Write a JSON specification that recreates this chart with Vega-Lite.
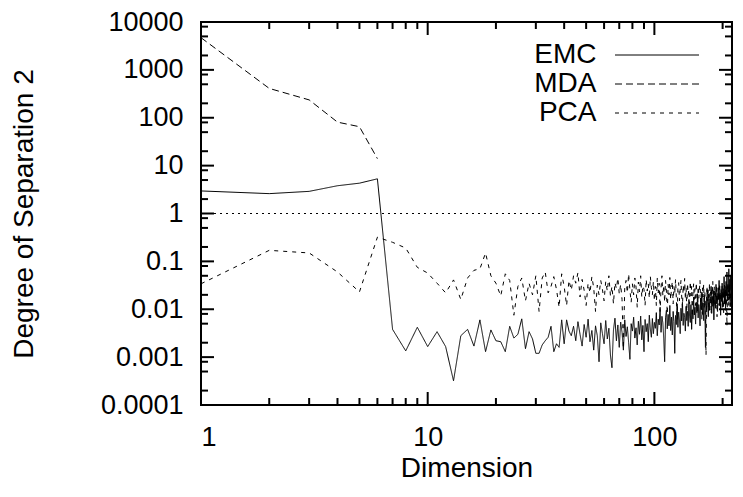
{
"$schema": "https://vega.github.io/schema/vega-lite/v6.json",
"width": 531, "height": 383,
"autosize": {"type": "none"},
"padding": {"left": 201, "top": 22, "right": 11, "bottom": 92},
"background": "#ffffff",
"config": {
  "font": "Liberation Sans",
  "view": {"stroke": "#000", "strokeWidth": 2},
  "axis": {"domain": false, "ticks": false, "grid": false, "labelFont": "Liberation Sans", "labelFontSize": 27, "labelColor": "#000", "titleFont": "Liberation Sans", "titleFontSize": 28, "titleFontWeight": "normal", "titleColor": "#000"},
  "legend": {"orient": "none", "legendX": 442, "legendY": 19, "padding": 0, "labelFont": "Liberation Sans", "labelFontSize": 28, "labelColor": "#000", "symbolType": "M-4.2,0H4.2", "symbolSize": 400, "symbolStrokeWidth": 1, "symbolStrokeColor": "#000", "symbolFillColor": "transparent", "labelAlign": "right", "labelOffset": -74.5, "rowPadding": 1}
},
"datasets": {
"ymaj": [{"v":0.0001},{"v":0.001},{"v":0.01},{"v":0.1},{"v":1},{"v":10},{"v":100},{"v":1000},{"v":10000}],
"yminor": [{"v":0.0002},{"v":0.0005},{"v":0.0008},{"v":0.002},{"v":0.005},{"v":0.008},{"v":0.02},{"v":0.05},{"v":0.08},{"v":0.2},{"v":0.5},{"v":0.8},{"v":2},{"v":5},{"v":8},{"v":20},{"v":50},{"v":80},{"v":200},{"v":500},{"v":800},{"v":2000},{"v":5000},{"v":8000}],
"xmaj": [{"d":1},{"d":10},{"d":100}],
"xminor": [{"d":2},{"d":3},{"d":4},{"d":5},{"d":6},{"d":7},{"d":8},{"d":9},{"d":20},{"d":30},{"d":40},{"d":50},{"d":60},{"d":70},{"d":80},{"d":90},{"d":200}],
"t": [
{"d":1,"EMC":2.96,"MDA":4700,"PCA":0.034},{"d":2,"EMC":2.6,"MDA":410,"PCA":0.17},{"d":3,"EMC":2.9,"MDA":236,"PCA":0.15},{"d":4,"EMC":3.8,"MDA":81,"PCA":0.06},{"d":5,"EMC":4.3,"MDA":65,"PCA":0.023},{"d":6,"EMC":5.3,"MDA":14,"PCA":0.32},
{"d":7,"EMC":0.0038,"PCA":0.25},{"d":8,"EMC":0.00135,"PCA":0.19},{"d":9,"EMC":0.0042,"PCA":0.075},{"d":10,"EMC":0.00166,"PCA":0.057},
{"d":11,"EMC":0.0034,"PCA":0.035},{"d":12,"EMC":0.00166,"PCA":0.022},{"d":13,"EMC":0.00032,"PCA":0.041},{"d":14,"EMC":0.0028,"PCA":0.016},{"d":15,"EMC":0.0038,"PCA":0.045},
{"d":16,"EMC":0.0017,"PCA":0.065},{"d":17,"EMC":0.006,"PCA":0.07},{"d":18,"EMC":0.0013,"PCA":0.15},{"d":19,"EMC":0.0037,"PCA":0.05},{"d":20,"EMC":0.0022,"PCA":0.035},
{"d":21,"EMC":0.0021,"PCA":0.019},{"d":22,"EMC":0.0013,"PCA":0.055},{"d":23,"EMC":0.0044,"PCA":0.04},{"d":24,"EMC":0.0025,"PCA":0.0075},{"d":25,"EMC":0.003,"PCA":0.03},
{"d":26,"EMC":0.0063,"PCA":0.045},{"d":27,"EMC":0.0015,"PCA":0.015},{"d":28,"EMC":0.0034,"PCA":0.035},{"d":29,"EMC":0.0024,"PCA":0.02},{"d":30,"EMC":0.0012,"PCA":0.05},
{"d":31,"EMC":0.0012,"PCA":0.009},{"d":32,"EMC":0.0018,"PCA":0.045},{"d":33,"EMC":0.0022,"PCA":0.06},{"d":34,"EMC":0.0026,"PCA":0.022},{"d":35,"EMC":0.0044,"PCA":0.03},
{"d":36,"EMC":0.0013,"PCA":0.048},{"d":37,"EMC":0.0019,"PCA":0.026},{"d":38,"EMC":0.0016,"PCA":0.011},{"d":39,"EMC":0.006,"PCA":0.055},{"d":40,"EMC":0.0019,"PCA":0.03},
{"d":41,"EMC":0.006,"PCA":0.012},{"d":42,"EMC":0.0035,"PCA":0.04},{"d":43,"EMC":0.0028,"PCA":0.025},{"d":44,"EMC":0.0044,"PCA":0.05},{"d":45,"EMC":0.0022,"PCA":0.035},
{"d":46,"EMC":0.0055,"PCA":0.058},{"d":47,"EMC":0.003,"PCA":0.018},{"d":48,"EMC":0.0017,"PCA":0.042},{"d":49,"EMC":0.0048,"PCA":0.025},{"d":50,"EMC":0.0026,"PCA":0.012},
{"d":51,"EMC":0.0062,"PCA":0.035},{"d":52,"EMC":0.0021,"PCA":0.022},{"d":53,"EMC":0.0036,"PCA":0.048},{"d":54,"EMC":0.0014,"PCA":0.028},{"d":55,"EMC":0.0045,"PCA":0.009},
{"d":56,"EMC":0.0028,"PCA":0.032},{"d":57,"EMC":0.0008,"PCA":0.02},{"d":58,"EMC":0.0052,"PCA":0.04},{"d":59,"EMC":0.0031,"PCA":0.026},{"d":60,"EMC":0.0019,"PCA":0.015},
{"d":61,"EMC":0.0058,"PCA":0.038},{"d":62,"EMC":0.0024,"PCA":0.024},{"d":63,"EMC":0.004,"PCA":0.05},{"d":64,"EMC":0.0011,"PCA":0.019},{"d":65,"EMC":0.0006,"PCA":0.03},
{"d":66,"EMC":0.0037,"PCA":0.013},{"d":67,"EMC":0.0065,"PCA":0.036},{"d":68,"EMC":0.0022,"PCA":0.027},{"d":69,"EMC":0.0047,"PCA":0.045},{"d":70,"EMC":0.0016,"PCA":0.021},
{"d":71,"EMC":0.0054,"PCA":0.033},{"d":72,"EMC":0.0033,"PCA":0.016},{"d":73,"EMC":0.0014,"PCA":0.0015},{"d":74,"EMC":0.006,"PCA":0.028},{"d":75,"EMC":0.0027,"PCA":0.04},
{"d":76,"EMC":0.0043,"PCA":0.022},{"d":77,"EMC":0.002,"PCA":0.055},{"d":78,"EMC":0.0009,"PCA":0.025},{"d":79,"EMC":0.005,"PCA":0.014},{"d":80,"EMC":0.0035,"PCA":0.034},
{"d":81,"EMC":0.0068,"PCA":0.02},{"d":82,"EMC":0.0025,"PCA":0.045},{"d":83,"EMC":0.0041,"PCA":0.029},{"d":84,"EMC":0.0018,"PCA":0.011},{"d":85,"EMC":0.0056,"PCA":0.037},
{"d":86,"EMC":0.003,"PCA":0.023},{"d":87,"EMC":0.0072,"PCA":0.05},{"d":88,"EMC":0.0023,"PCA":0.018},{"d":89,"EMC":0.0046,"PCA":0.031},{"d":90,"EMC":0.0013,"PCA":0.026},
{"d":91,"EMC":0.0061,"PCA":0.012},{"d":92,"EMC":0.0034,"PCA":0.042},{"d":93,"EMC":0.005,"PCA":0.024},{"d":94,"EMC":0.0021,"PCA":0.034},{"d":95,"EMC":0.0075,"PCA":0.017},
{"d":96,"EMC":0.0038,"PCA":0.048},{"d":97,"EMC":0.0026,"PCA":0.028},{"d":98,"EMC":0.0064,"PCA":0.02},{"d":99,"EMC":0.0031,"PCA":0.038},{"d":100,"EMC":0.0053,"PCA":0.015},
{"d":101,"EMC":0.004,"PCA":0.03},{"d":102,"EMC":0.0085,"PCA":0.012},{"d":103,"EMC":0.0028,"PCA":0.045},{"d":104,"EMC":0.0062,"PCA":0.022},{"d":105,"EMC":0.0047,"PCA":0.035},
{"d":106,"EMC":0.011,"PCA":0.009},{"d":107,"EMC":0.0033,"PCA":0.028},{"d":108,"EMC":0.0071,"PCA":0.05},{"d":109,"EMC":0.0052,"PCA":0.019},{"d":110,"EMC":0.0024,"PCA":0.032},
{"d":111,"EMC":0.0008,"PCA":0.014},{"d":112,"EMC":0.0066,"PCA":0.04},{"d":113,"EMC":0.0095,"PCA":0.024},{"d":114,"EMC":0.0039,"PCA":0.008},{"d":115,"EMC":0.0078,"PCA":0.033},
{"d":116,"EMC":0.0045,"PCA":0.02},{"d":117,"EMC":0.012,"PCA":0.046},{"d":118,"EMC":0.0036,"PCA":0.016},{"d":119,"EMC":0.0068,"PCA":0.027},{"d":120,"EMC":0.0029,"PCA":0.038},
{"d":121,"EMC":0.009,"PCA":0.013},{"d":122,"EMC":0.0055,"PCA":0.03},{"d":123,"EMC":0.0012,"PCA":0.021},{"d":124,"EMC":0.0074,"PCA":0.042},{"d":125,"EMC":0.0048,"PCA":0.017},
{"d":126,"EMC":0.013,"PCA":0.006},{"d":127,"EMC":0.0042,"PCA":0.029},{"d":128,"EMC":0.0087,"PCA":0.036},{"d":129,"EMC":0.006,"PCA":0.015},{"d":130,"EMC":0.0031,"PCA":0.025},
{"d":131,"EMC":0.0105,"PCA":0.04},{"d":132,"EMC":0.0057,"PCA":0.018},{"d":133,"EMC":0.014,"PCA":0.011},{"d":134,"EMC":0.0046,"PCA":0.032},{"d":135,"EMC":0.0082,"PCA":0.022},
{"d":136,"EMC":0.0067,"PCA":0.044},{"d":137,"EMC":0.0035,"PCA":0.016},{"d":138,"EMC":0.0115,"PCA":0.028},{"d":139,"EMC":0.0058,"PCA":0.009},{"d":140,"EMC":0.009,"PCA":0.035},
{"d":141,"EMC":0.0044,"PCA":0.02},{"d":142,"EMC":0.016,"PCA":0.026},{"d":143,"EMC":0.0072,"PCA":0.013},{"d":144,"EMC":0.0053,"PCA":0.038},{"d":145,"EMC":0.0125,"PCA":0.019},
{"d":146,"EMC":0.0038,"PCA":0.03},{"d":147,"EMC":0.0098,"PCA":0.007},{"d":148,"EMC":0.0063,"PCA":0.024},{"d":149,"EMC":0.018,"PCA":0.034},{"d":150,"EMC":0.0076,"PCA":0.016},
{"d":151,"EMC":0.011,"PCA":0.027},{"d":152,"EMC":0.0049,"PCA":0.012},{"d":153,"EMC":0.014,"PCA":0.036},{"d":154,"EMC":0.0085,"PCA":0.02},{"d":155,"EMC":0.021,"PCA":0.009},
{"d":156,"EMC":0.0066,"PCA":0.03},{"d":157,"EMC":0.0125,"PCA":0.017},{"d":158,"EMC":0.0092,"PCA":0.025},{"d":159,"EMC":0.0045,"PCA":0.04},{"d":160,"EMC":0.017,"PCA":0.014},
{"d":161,"EMC":0.01,"PCA":0.022},{"d":162,"EMC":0.023,"PCA":0.006},{"d":163,"EMC":0.0078,"PCA":0.028},{"d":164,"EMC":0.0135,"PCA":0.018},{"d":165,"EMC":0.0058,"PCA":0.033},
{"d":166,"EMC":0.019,"PCA":0.011},{"d":167,"EMC":0.011,"PCA":0.024},{"d":168,"EMC":0.0016,"PCA":0.0045},{"d":169,"EMC":0.015,"PCA":0.0011},{"d":170,"EMC":0.0088,"PCA":0.02},
{"d":171,"EMC":0.026,"PCA":0.03},{"d":172,"EMC":0.012,"PCA":0.015},{"d":173,"EMC":0.007,"PCA":0.026},{"d":174,"EMC":0.02,"PCA":0.01},{"d":175,"EMC":0.0095,"PCA":0.035},
{"d":176,"EMC":0.0165,"PCA":0.019},{"d":177,"EMC":0.0135,"PCA":0.023},{"d":178,"EMC":0.03,"PCA":0.008},{"d":179,"EMC":0.0082,"PCA":0.028},{"d":180,"EMC":0.018,"PCA":0.016},
{"d":181,"EMC":0.0115,"PCA":0.038},{"d":182,"EMC":0.024,"PCA":0.013},{"d":183,"EMC":0.006,"PCA":0.021},{"d":184,"EMC":0.015,"PCA":0.03},{"d":185,"EMC":0.021,"PCA":0.011},
{"d":186,"EMC":0.0105,"PCA":0.025},{"d":187,"EMC":0.033,"PCA":0.018},{"d":188,"EMC":0.013,"PCA":0.032},{"d":189,"EMC":0.019,"PCA":0.007},{"d":190,"EMC":0.009,"PCA":0.022},
{"d":191,"EMC":0.028,"PCA":0.015},{"d":192,"EMC":0.016,"PCA":0.028},{"d":193,"EMC":0.04,"PCA":0.012},{"d":194,"EMC":0.012,"PCA":0.035},{"d":195,"EMC":0.022,"PCA":0.02},
{"d":196,"EMC":0.0075,"PCA":0.0095},{"d":197,"EMC":0.025,"PCA":0.026},{"d":198,"EMC":0.0145,"PCA":0.017},{"d":199,"EMC":0.035,"PCA":0.03},{"d":200,"EMC":0.011,"PCA":0.013},
{"d":201,"EMC":0.027,"PCA":0.024},{"d":202,"EMC":0.018,"PCA":0.0085},{"d":203,"EMC":0.048,"PCA":0.02},{"d":204,"EMC":0.013,"PCA":0.032},{"d":205,"EMC":0.03,"PCA":0.014},
{"d":206,"EMC":0.0095,"PCA":0.027},{"d":207,"EMC":0.038,"PCA":0.011},{"d":208,"EMC":0.02,"PCA":0.022},{"d":209,"EMC":0.06,"PCA":0.0045},{"d":210,"EMC":0.015,"PCA":0.018},
{"d":211,"EMC":0.033,"PCA":0.03},{"d":212,"EMC":0.023,"PCA":0.012},{"d":213,"EMC":0.07,"PCA":0.025},{"d":214,"EMC":0.017,"PCA":0.016},{"d":215,"EMC":0.042,"PCA":0.034},
{"d":216,"EMC":0.012,"PCA":0.01},{"d":217,"EMC":0.05,"PCA":0.022},{"d":218,"EMC":0.025,"PCA":0.015},{"d":219,"EMC":0.08,"PCA":0.028},{"d":220,"EMC":0.028,"PCA":0.02}
]},
"layer": [
  {
    "data": {"values": [{}]},
    "mark": {"type": "rule", "strokeDash": [2, 4], "strokeWidth": 1, "color": "#000"},
    "encoding": {"y": {"datum": 1, "type": "quantitative", "scale": {"type": "log", "domain": [0.0001, 10000], "nice": false}, "axis": null}}
  },
  {
    "data": {"name": "t"},
    "transform": [{"fold": ["EMC", "MDA", "PCA"], "as": ["s", "v"]}, {"filter": "isValid(datum.v)"}],
    "mark": {"type": "line", "color": "#000", "strokeWidth": 1},
    "encoding": {
      "x": {"field": "d", "type": "quantitative", "scale": {"type": "log", "domain": [1, 220], "nice": false},
        "axis": {"orient": "bottom", "title": "Dimension", "titleX": 265.5, "titleY": 63, "titleBaseline": "middle",
          "values": [1, 10, 100], "labelExpr": "'' + datum.value", "labelPadding": 19}},
      "y": {"field": "v", "type": "quantitative", "scale": {"type": "log", "domain": [0.0001, 10000], "nice": false},
        "axis": {"orient": "left", "title": "Degree of Separation 2", "titleX": -177, "titleY": 191.5, "titleBaseline": "middle", "titleAngle": -90,
          "values": [0.0001,0.001,0.01,0.1,1,10,100,1000,10000], "labelExpr": "'' + datum.value", "labelPadding": 18}},
      "strokeDash": {"field": "s", "type": "nominal", "scale": {"domain": ["EMC", "MDA", "PCA"], "range": [[1, 0], [7, 4], [4, 5]]}, "legend": {"title": null}}
    }
  },
  {
    "data": {"name": "ymaj"},
    "mark": {"type": "rule", "strokeWidth": 2, "color": "#000"},
    "encoding": {
      "x": {"datum": 1.0001, "type": "quantitative", "scale": {"type": "log", "domain": [1, 220], "nice": false}, "axis": null},
      "x2": {"datum": 1.141},
      "y": {"field": "v", "type": "quantitative", "scale": {"type": "log", "domain": [0.0001, 10000], "nice": false}, "axis": null}
    }
  },
  {
    "data": {"name": "ymaj"},
    "mark": {"type": "rule", "strokeWidth": 2, "color": "#000"},
    "encoding": {
      "x": {"datum": 192.8, "type": "quantitative", "scale": {"type": "log", "domain": [1, 220], "nice": false}, "axis": null},
      "x2": {"datum": 219.98},
      "y": {"field": "v", "type": "quantitative", "scale": {"type": "log", "domain": [0.0001, 10000], "nice": false}, "axis": null}
    }
  },
  {
    "data": {"name": "yminor"},
    "mark": {"type": "rule", "strokeWidth": 2, "color": "#000"},
    "encoding": {
      "x": {"datum": 1.0001, "type": "quantitative", "scale": {"type": "log", "domain": [1, 220], "nice": false}, "axis": null},
      "x2": {"datum": 1.0737},
      "y": {"field": "v", "type": "quantitative", "scale": {"type": "log", "domain": [0.0001, 10000], "nice": false}, "axis": null}
    }
  },
  {
    "data": {"name": "yminor"},
    "mark": {"type": "rule", "strokeWidth": 2, "color": "#000"},
    "encoding": {
      "x": {"datum": 204.9, "type": "quantitative", "scale": {"type": "log", "domain": [1, 220], "nice": false}, "axis": null},
      "x2": {"datum": 219.98},
      "y": {"field": "v", "type": "quantitative", "scale": {"type": "log", "domain": [0.0001, 10000], "nice": false}, "axis": null}
    }
  },
  {
    "data": {"name": "xmaj"},
    "mark": {"type": "rule", "strokeWidth": 2, "color": "#000"},
    "encoding": {
      "x": {"field": "d", "type": "quantitative", "scale": {"type": "log", "domain": [1, 220], "nice": false}, "axis": null},
      "y": {"datum": 0.000100001, "type": "quantitative", "scale": {"type": "log", "domain": [0.0001, 10000], "nice": false}, "axis": null},
      "y2": {"datum": 0.0001868}
    }
  },
  {
    "data": {"name": "xmaj"},
    "mark": {"type": "rule", "strokeWidth": 2, "color": "#000"},
    "encoding": {
      "x": {"field": "d", "type": "quantitative", "scale": {"type": "log", "domain": [1, 220], "nice": false}, "axis": null},
      "y": {"datum": 5353, "type": "quantitative", "scale": {"type": "log", "domain": [0.0001, 10000], "nice": false}, "axis": null},
      "y2": {"datum": 9999.9}
    }
  },
  {
    "data": {"name": "xminor"},
    "mark": {"type": "rule", "strokeWidth": 2, "color": "#000"},
    "encoding": {
      "x": {"field": "d", "type": "quantitative", "scale": {"type": "log", "domain": [1, 220], "nice": false}, "axis": null},
      "y": {"datum": 0.000100001, "type": "quantitative", "scale": {"type": "log", "domain": [0.0001, 10000], "nice": false}, "axis": null},
      "y2": {"datum": 0.00014}
    }
  },
  {
    "data": {"name": "xminor"},
    "mark": {"type": "rule", "strokeWidth": 2, "color": "#000"},
    "encoding": {
      "x": {"field": "d", "type": "quantitative", "scale": {"type": "log", "domain": [1, 220], "nice": false}, "axis": null},
      "y": {"datum": 7143, "type": "quantitative", "scale": {"type": "log", "domain": [0.0001, 10000], "nice": false}, "axis": null},
      "y2": {"datum": 9999.9}
    }
  }
],
"resolve": {"axis": {"x": "independent", "y": "independent"}}
}
